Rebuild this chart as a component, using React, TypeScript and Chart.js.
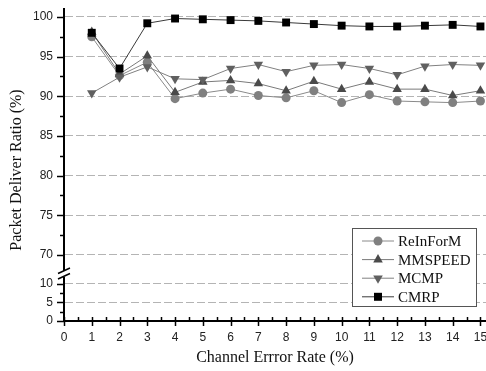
import React, { useEffect, useRef } from 'react';
import { Chart, registerables } from 'chart.js';

Chart.register(...registerables);

const errorRates = [1, 2, 3, 4, 5, 6, 7, 8, 9, 10, 11, 12, 13, 14, 15];
const reinform = [97.5, 92.6, 94.3, 89.7, 90.4, 90.9, 90.1, 89.8, 90.7, 89.2, 90.2, 89.4, 89.3, 89.2, 89.4];
const mmspeed = [98.1, 92.8, 95.1, 90.5, 91.8, 92.0, 91.6, 90.7, 91.9, 90.9, 91.8, 90.9, 90.9, 90.1, 90.7];
const mcmp = [90.4, 92.4, 93.7, 92.2, 92.1, 93.5, 94.0, 93.1, 93.9, 94.0, 93.5, 92.7, 93.8, 94.0, 93.9];
const cmrp = [98.0, 93.5, 99.2, 99.8, 99.7, 99.6, 99.5, 99.3, 99.1, 98.9, 98.8, 98.8, 98.9, 99.0, 98.8];

const xTickValues = [0, 1, 2, 3, 4, 5, 6, 7, 8, 9, 10, 11, 12, 13, 14, 15];
const upperTickValues = [70, 72.5, 75, 77.5, 80, 82.5, 85, 87.5, 90, 92.5, 95, 97.5, 100];
const lowerTickValues = [0, 2.5, 5, 7.5, 10];

const xTitle = 'Channel Errror Rate (%)';
const yTitle = 'Packet Deliver Ratio (%)';

const SANS = '"Liberation Sans", Arial, sans-serif';
const SERIF = '"Liberation Serif", "Times New Roman", serif';

function drawMarker(ctx: CanvasRenderingContext2D, style: string, x: number, y: number, color: string) {
  ctx.fillStyle = color;
  ctx.beginPath();
  if (style === 'circle') {
    ctx.arc(x, y, 4.5, 0, Math.PI * 2);
  } else if (style === 'up') {
    ctx.moveTo(x, y - 5.5);
    ctx.lineTo(x + 4.8, y + 2.8);
    ctx.lineTo(x - 4.8, y + 2.8);
    ctx.closePath();
  } else if (style === 'down') {
    ctx.moveTo(x, y + 5.5);
    ctx.lineTo(x + 4.8, y - 2.8);
    ctx.lineTo(x - 4.8, y - 2.8);
    ctx.closePath();
  } else {
    ctx.rect(x - 4, y - 4, 8, 8);
  }
  ctx.fill();
}

const decorPlugin = {
  id: 'decor',
  afterDraw(chart: any) {
    const ctx: CanvasRenderingContext2D = chart.ctx;
    const area = chart.chartArea;
    const xs = chart.scales.x;
    const yu = chart.scales.y;
    const yl = chart.scales.yLow;
    ctx.save();
    ctx.strokeStyle = '#000';
    ctx.lineWidth = 1.5;
    const left = area.left;
    const drawY = (scale: any, values: number[]) => {
      values.forEach((v) => {
        const py = Math.round(scale.getPixelForValue(v)) + 0.5;
        const major = v % 5 === 0;
        ctx.beginPath();
        ctx.moveTo(left - (major ? 7 : 4), py);
        ctx.lineTo(left, py);
        ctx.stroke();
      });
    };
    drawY(yu, upperTickValues);
    drawY(yl, lowerTickValues);
    const by = area.bottom;
    for (let i = 0; i <= 30; i++) {
      const v = i / 2;
      const px = Math.round(xs.getPixelForValue(v)) + 0.5;
      const major = i % 2 === 0;
      ctx.beginPath();
      ctx.moveTo(px, by - 4);
      ctx.lineTo(px, major ? by + 5 : by);
      ctx.stroke();
    }
    // axis break
    const boundary = yu.bottom;
    ctx.fillStyle = '#fff';
    ctx.fillRect(left - 3, boundary - 3, 6, 6);
    ctx.strokeStyle = '#000';
    ctx.lineWidth = 1.5;
    ctx.beginPath();
    ctx.moveTo(left - 6, boundary - 0.5);
    ctx.lineTo(left + 6, boundary - 6);
    ctx.moveTo(left - 6, boundary + 5);
    ctx.lineTo(left + 6, boundary - 0.5);
    ctx.stroke();

    // y title
    ctx.save();
    ctx.translate(17, 170);
    ctx.rotate(-Math.PI / 2);
    ctx.font = '16px ' + SERIF;
    ctx.fillStyle = '#111';
    ctx.textAlign = 'center';
    ctx.textBaseline = 'middle';
    ctx.fillText(yTitle, 0, 0);
    ctx.restore();

    // legend
    const bx = 352.5, byy = 228.5, bw = 124, bh = 78;
    ctx.fillStyle = '#fff';
    ctx.fillRect(bx, byy, bw, bh);
    ctx.strokeStyle = '#555';
    ctx.lineWidth = 1;
    ctx.strokeRect(bx, byy, bw, bh);
    const legendOrder = [1, 2, 3, 0];
    legendOrder.forEach((di, row) => {
      const ds = chart.data.datasets[di];
      const ry = 241 + row * 18.6;
      ctx.strokeStyle = ds.borderColor;
      ctx.lineWidth = 1;
      ctx.beginPath();
      ctx.moveTo(362, ry);
      ctx.lineTo(394, ry);
      ctx.stroke();
      drawMarker(ctx, ds.legendMarker, 378, ry, ds.pointBackgroundColor);
      ctx.fillStyle = '#111';
      ctx.font = '15px ' + SERIF;
      ctx.textAlign = 'left';
      ctx.textBaseline = 'middle';
      ctx.fillText(ds.label, 398, ry + 1);
    });
    ctx.restore();
  },
};

function toPoints(values: number[]) {
  return values.map((v, i) => ({ x: errorRates[i], y: v }));
}

export default function App() {
  const canvasRef = useRef<HTMLCanvasElement | null>(null);

  useEffect(() => {
    if (!canvasRef.current) return;
    const gridColor = (ctx: any) => (ctx.tick && ctx.tick.value % 5 === 0 ? '#b4b4b4' : 'transparent');
    const chart = new Chart(canvasRef.current, {
      type: 'line',
      data: {
        datasets: [
          {
            label: 'CMRP',
            data: toPoints(cmrp),
            borderColor: '#3a3a3a',
            backgroundColor: '#000',
            pointBackgroundColor: '#000',
            pointBorderColor: '#000',
            pointStyle: 'rect',
            pointRadius: 5.6,
            borderWidth: 1,
            pointBorderWidth: 0,
            legendMarker: 'square',
            order: 0,
          } as any,
          {
            label: 'ReInForM',
            data: toPoints(reinform),
            borderColor: '#8a8a8a',
            backgroundColor: '#808080',
            pointBackgroundColor: '#808080',
            pointBorderColor: '#808080',
            pointStyle: 'circle',
            pointRadius: 4.5,
            borderWidth: 1,
            pointBorderWidth: 0,
            legendMarker: 'circle',
            order: 3,
          } as any,
          {
            label: 'MMSPEED',
            data: toPoints(mmspeed),
            borderColor: '#7a7a7a',
            backgroundColor: '#4a4a4a',
            pointBackgroundColor: '#4a4a4a',
            pointBorderColor: '#4a4a4a',
            pointStyle: 'triangle',
            pointRadius: 5.5,
            borderWidth: 1,
            pointBorderWidth: 0,
            legendMarker: 'up',
            order: 2,
          } as any,
          {
            label: 'MCMP',
            data: toPoints(mcmp),
            borderColor: '#808080',
            backgroundColor: '#606060',
            pointBackgroundColor: '#606060',
            pointBorderColor: '#606060',
            pointStyle: 'triangle',
            pointRotation: 180,
            pointRadius: 5.5,
            borderWidth: 1,
            pointBorderWidth: 0,
            legendMarker: 'down',
            order: 1,
          } as any,
        ],
      },
      options: {
        animation: false,
        responsive: false,
        layout: { autoPadding: false, padding: { top: 9, left: 0, right: 0, bottom: 0 } },
        plugins: { legend: { display: false }, tooltip: { enabled: false } },
        scales: {
          x: {
            type: 'linear',
            position: 'bottom',
            min: 0,
            max: 15.2,
            afterBuildTicks: (s: any) => {
              s.ticks = xTickValues.map((v) => ({ value: v }));
            },
            afterFit: (s: any) => {
              s.height = 50;
              s.paddingLeft = 0;
              s.paddingRight = 0;
            },
            ticks: {
              autoSkip: false,
              maxRotation: 0,
              padding: 3,
              color: '#222',
              font: { family: SANS, size: 12 },
              callback: (v: any) => String(v),
            },
            grid: { display: true, drawOnChartArea: false, drawTicks: true, tickLength: 6, tickColor: 'transparent' },
            border: { display: true, color: '#000', width: 2 },
            title: {
              display: true,
              text: xTitle,
              color: '#111',
              font: { family: SERIF, size: 16 },
              padding: { top: 0, bottom: 4 },
            },
          },
          y: {
            type: 'linear',
            position: 'left',
            stack: 'broken',
            stackWeight: 265,
            weight: 1,
            min: 67.6,
            max: 101,
            afterBuildTicks: (s: any) => {
              s.ticks = upperTickValues.map((v) => ({ value: v }));
            },
            afterFit: (s: any) => {
              s.width = 64;
              s.paddingTop = 0;
              s.paddingBottom = 0;
            },
            ticks: {
              autoSkip: false,
              padding: 4,
              color: '#222',
              font: { family: SANS, size: 12 },
              callback: (v: any) => (Number(v) % 5 === 0 ? String(v) : ''),
            },
            grid: { color: gridColor, lineWidth: 1, drawTicks: true, tickLength: 7, tickColor: 'transparent' },
            border: { display: true, color: '#000', width: 2, dash: [8, 3] },
          },
          yLow: {
            type: 'linear',
            position: 'left',
            stack: 'broken',
            stackWeight: 47,
            weight: 0,
            min: 0,
            max: 12.6,
            afterBuildTicks: (s: any) => {
              s.ticks = lowerTickValues.map((v) => ({ value: v }));
            },
            afterFit: (s: any) => {
              s.width = 64;
              s.paddingTop = 0;
              s.paddingBottom = 0;
            },
            ticks: {
              autoSkip: false,
              padding: 4,
              color: '#222',
              font: { family: SANS, size: 12 },
              callback: (v: any) => (Number(v) % 5 === 0 ? String(v) : ''),
            },
            grid: { color: gridColor, lineWidth: 1, drawTicks: true, tickLength: 7, tickColor: 'transparent' },
            border: { display: true, color: '#000', width: 2, dash: [8, 3] },
          },
        },
      } as any,
      plugins: [decorPlugin],
    });
    return () => chart.destroy();
  }, []);

  return (
    <div style={{ position: 'fixed', left: 0, top: 0, width: 486, height: 371, background: '#fff' }}>
      <canvas ref={canvasRef} width={486} height={371} style={{ display: 'block' }} />
    </div>
  );
}
